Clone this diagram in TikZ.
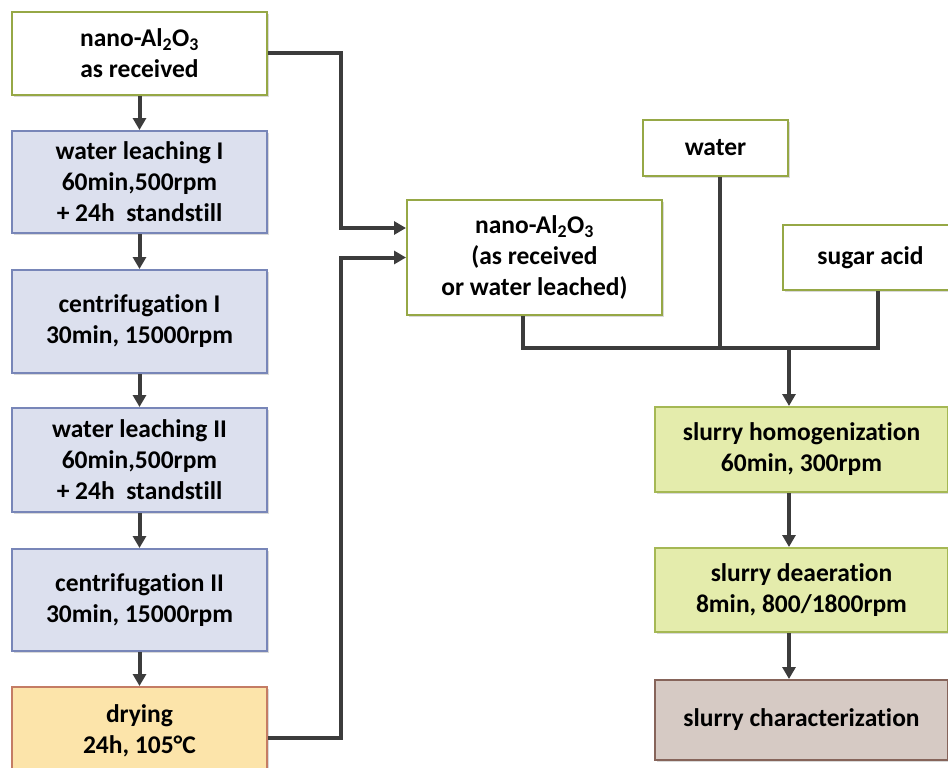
\documentclass[tikz,border=0pt]{standalone}
\usepackage{fontspec}
\setmainfont{Carlito}[Ligatures=NoCommon]
\usetikzlibrary{arrows.meta,shadows}

\definecolor{linegray}{RGB}{60,60,60}
\definecolor{olive}{RGB}{150,168,70}
\definecolor{bluefill}{RGB}{220,224,238}
\definecolor{blueline}{RGB}{120,134,184}
\definecolor{dryfill}{RGB}{252,228,170}
\definecolor{dryline}{RGB}{196,124,100}
\definecolor{greenfill}{RGB}{228,236,172}
\definecolor{greenline}{RGB}{165,184,84}
\definecolor{brownfill}{RGB}{214,202,196}
\definecolor{brownline}{RGB}{134,100,90}

\begin{document}
\begin{tikzpicture}[x=1pt,y=-1pt,
  font=\fontsize{25.5}{31}\selectfont\bfseries,
  box/.style={draw, rectangle, line width=2pt, align=center, inner sep=0pt,
    drop shadow={shadow xshift=2pt, shadow yshift=-2pt, opacity=0.3, fill=gray}},
  whitebox/.style={box, draw=olive, fill=white},
  bluebox/.style={box, draw=blueline, fill=bluefill, minimum width=255pt},
  greenbox/.style={box, draw=greenline, fill=greenfill, minimum width=293pt},
  conn/.style={draw=linegray, line width=4pt},
  arr/.style={conn, -{Triangle[length=12pt,width=13pt]}}]
\useasboundingbox (0,0) rectangle (948,768);
\clip (0,0) rectangle (948,768);

% left column
\node[whitebox, minimum width=255pt, minimum height=83pt] (raw) at (139.5,53.5) {nano-Al\textsubscript{2}O\textsubscript{3}\\as received};
\node[bluebox, minimum height=102pt] (leach1) at (139.5,182) {water leaching I\\60min,500rpm\\+ 24h\ \ standstill};
\node[bluebox, minimum height=103pt] (centri1) at (139.5,321.5) {centrifugation I\\30min, 15000rpm};
\node[bluebox, minimum height=104pt] (leach2) at (139.5,460) {water leaching II\\60min,500rpm\\+ 24h\ \ standstill};
\node[bluebox, minimum height=102pt] (centri2) at (139.5,600) {centrifugation II\\30min, 15000rpm};
\node[box, draw=dryline, fill=dryfill, minimum width=255pt, minimum height=88pt] (dry) at (139.5,731) {drying\\24h, 105°C};

% right part
\node[whitebox, minimum width=255pt, minimum height=115pt] (nano) at (534.5,257.5) {nano-Al\textsubscript{2}O\textsubscript{3}\\(as received\\or water leached)};
\node[whitebox, minimum width=145pt, minimum height=56pt] (water) at (715.5,148) {water};
\node[whitebox, minimum width=175pt, minimum height=65pt] (sugar) at (870.5,257.5) {sugar acid};
\node[greenbox, minimum height=85pt] (homog) at (801.5,449.5) {slurry homogenization\\60min, 300rpm};
\node[greenbox, minimum height=84pt] (deaer) at (801.5,590) {slurry deaeration\\8min, 800/1800rpm};
\node[box, draw=brownline, fill=brownfill, minimum width=293pt, minimum height=80pt] (charac) at (801.5,720) {slurry characterization};

\coordinate (bend) at (341,0);
\coordinate (join) at (789,348);

\draw[arr] (raw) -- (leach1);
\draw[arr] (leach1) -- (centri1);
\draw[arr] (centri1) -- (leach2);
\draw[arr] (leach2) -- (centri2);
\draw[arr] (centri2) -- (dry);

\draw[arr] (raw.east) -- (raw.east -| bend) |- ([yshift=29.5pt]nano.west);
\draw[arr] ([yshift=-7pt]dry.east) -| (bend |- nano.west) -- (nano.west);

\draw[conn] ([xshift=-12pt]nano.south) |- (join) -| ([xshift=7pt]sugar.south);
\draw[conn] ([xshift=4pt]water.south) -- ([xshift=4pt]water.south |- join);
\draw[arr] (join) -- (join |- homog.north);
\draw[arr] (join |- homog.south) -- (join |- deaer.north);
\draw[arr] (join |- deaer.south) -- (join |- charac.north);
\end{tikzpicture}
\end{document}
